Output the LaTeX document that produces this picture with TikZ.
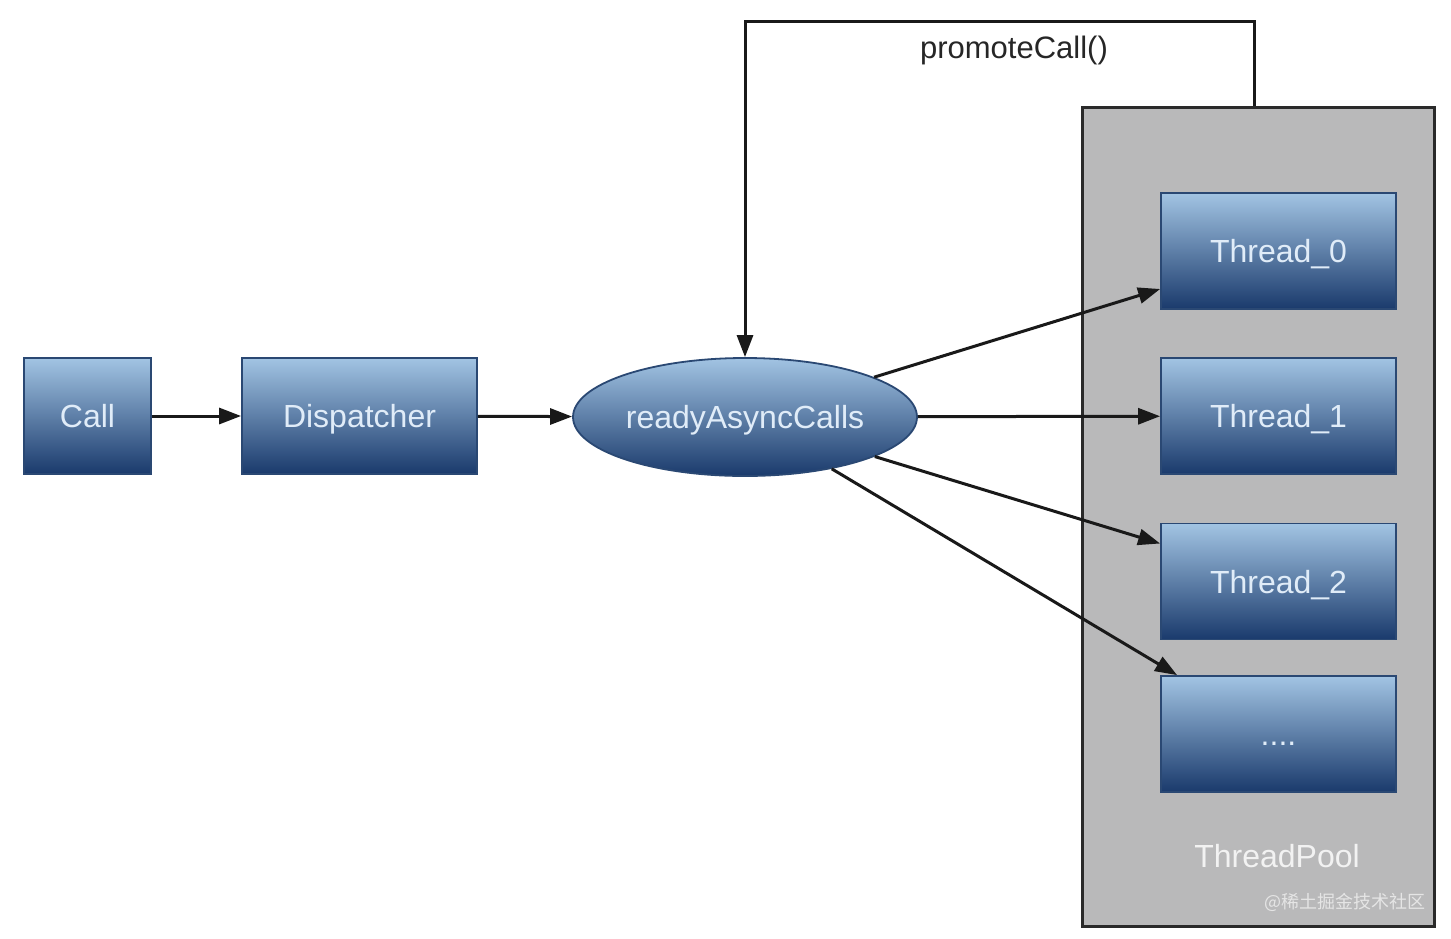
\documentclass[tikz,border=0pt]{standalone}
\usepackage{fontspec}
\setmainfont{Liberation Sans}
\newfontfamily\cjk{Noto Sans CJK SC}
\usetikzlibrary{shapes.geometric,arrows.meta,calc}
\definecolor{btop}{HTML}{A2C4E3}
\definecolor{bbot}{HTML}{1A3A6C}
\definecolor{bdraw}{HTML}{2A4873}
\definecolor{btext}{HTML}{E0ECF8}
\definecolor{poolfill}{HTML}{B9B9BA}
\definecolor{pooldraw}{HTML}{2A2A2A}
\begin{document}
\begin{tikzpicture}[x=1pt,y=-1pt,
  bluebox/.style={rectangle, draw=bdraw, line width=1.8pt, top color=btop, bottom color=bbot, text=btext, font=\fontsize{32}{38}\selectfont, inner sep=0pt, text height=23pt, text depth=0pt},
  threadbox/.style={bluebox, minimum width=235pt, minimum height=116pt},
  arr/.style={draw=black!90, line width=3pt, -{Triangle[length=22pt,width=16pt]}},
]
\fill[white] (0,0) rectangle (1451,938);
\useasboundingbox (0,0) rectangle (1451,938);

\node[draw=pooldraw, fill=poolfill, line width=3pt, minimum width=352pt, minimum height=819pt, inner sep=0pt] (pool) at (1258,516.5) {};

\node[bluebox, minimum width=127pt, minimum height=116pt] (call) at (87.5,416) {Call};
\node[bluebox, minimum width=235pt, minimum height=116pt] (disp) at (359.5,416) {Dispatcher};
\node[bluebox, ellipse, minimum width=344pt, minimum height=118pt] (e) at (745,417) {readyAsyncCalls};

\node[threadbox] (t0) at (1278.5,251) {Thread\_0};
\node[threadbox] (t1) at (1278.5,416) {Thread\_1};
\node[threadbox] (t2) at (1278.5,581.5) {Thread\_2};
\node[threadbox] (t3) at (1278.5,734) {....};

\node[text=white!90!gray, font=\fontsize{32}{38}\selectfont] (plabel) at (1277,856) {ThreadPool};
\node[text=white!80!gray, font=\cjk\fontsize{18}{22}\selectfont] (wm) at (1345,902) {@稀土掘金技术社区};

\node[text=black!85, font=\fontsize{31}{36}\selectfont] (pclabel) at (1014,50) {promoteCall()};

\draw[arr] (call) -- (disp);
\draw[arr] (disp) -- (e);
\draw[arr] (e) -- ([yshift=-38pt]t0.west);
\draw[arr] (e) -- (t1);
\draw[arr] (e) -- ([yshift=38pt]t2.west);
\draw[arr] (e) -- ([xshift=17pt]t3.north west);

\coordinate (pc) at (745,21);
\draw[arr] ([xshift=-4pt]pool.north) |- (pc) -- (e.north);
\end{tikzpicture}
\end{document}
